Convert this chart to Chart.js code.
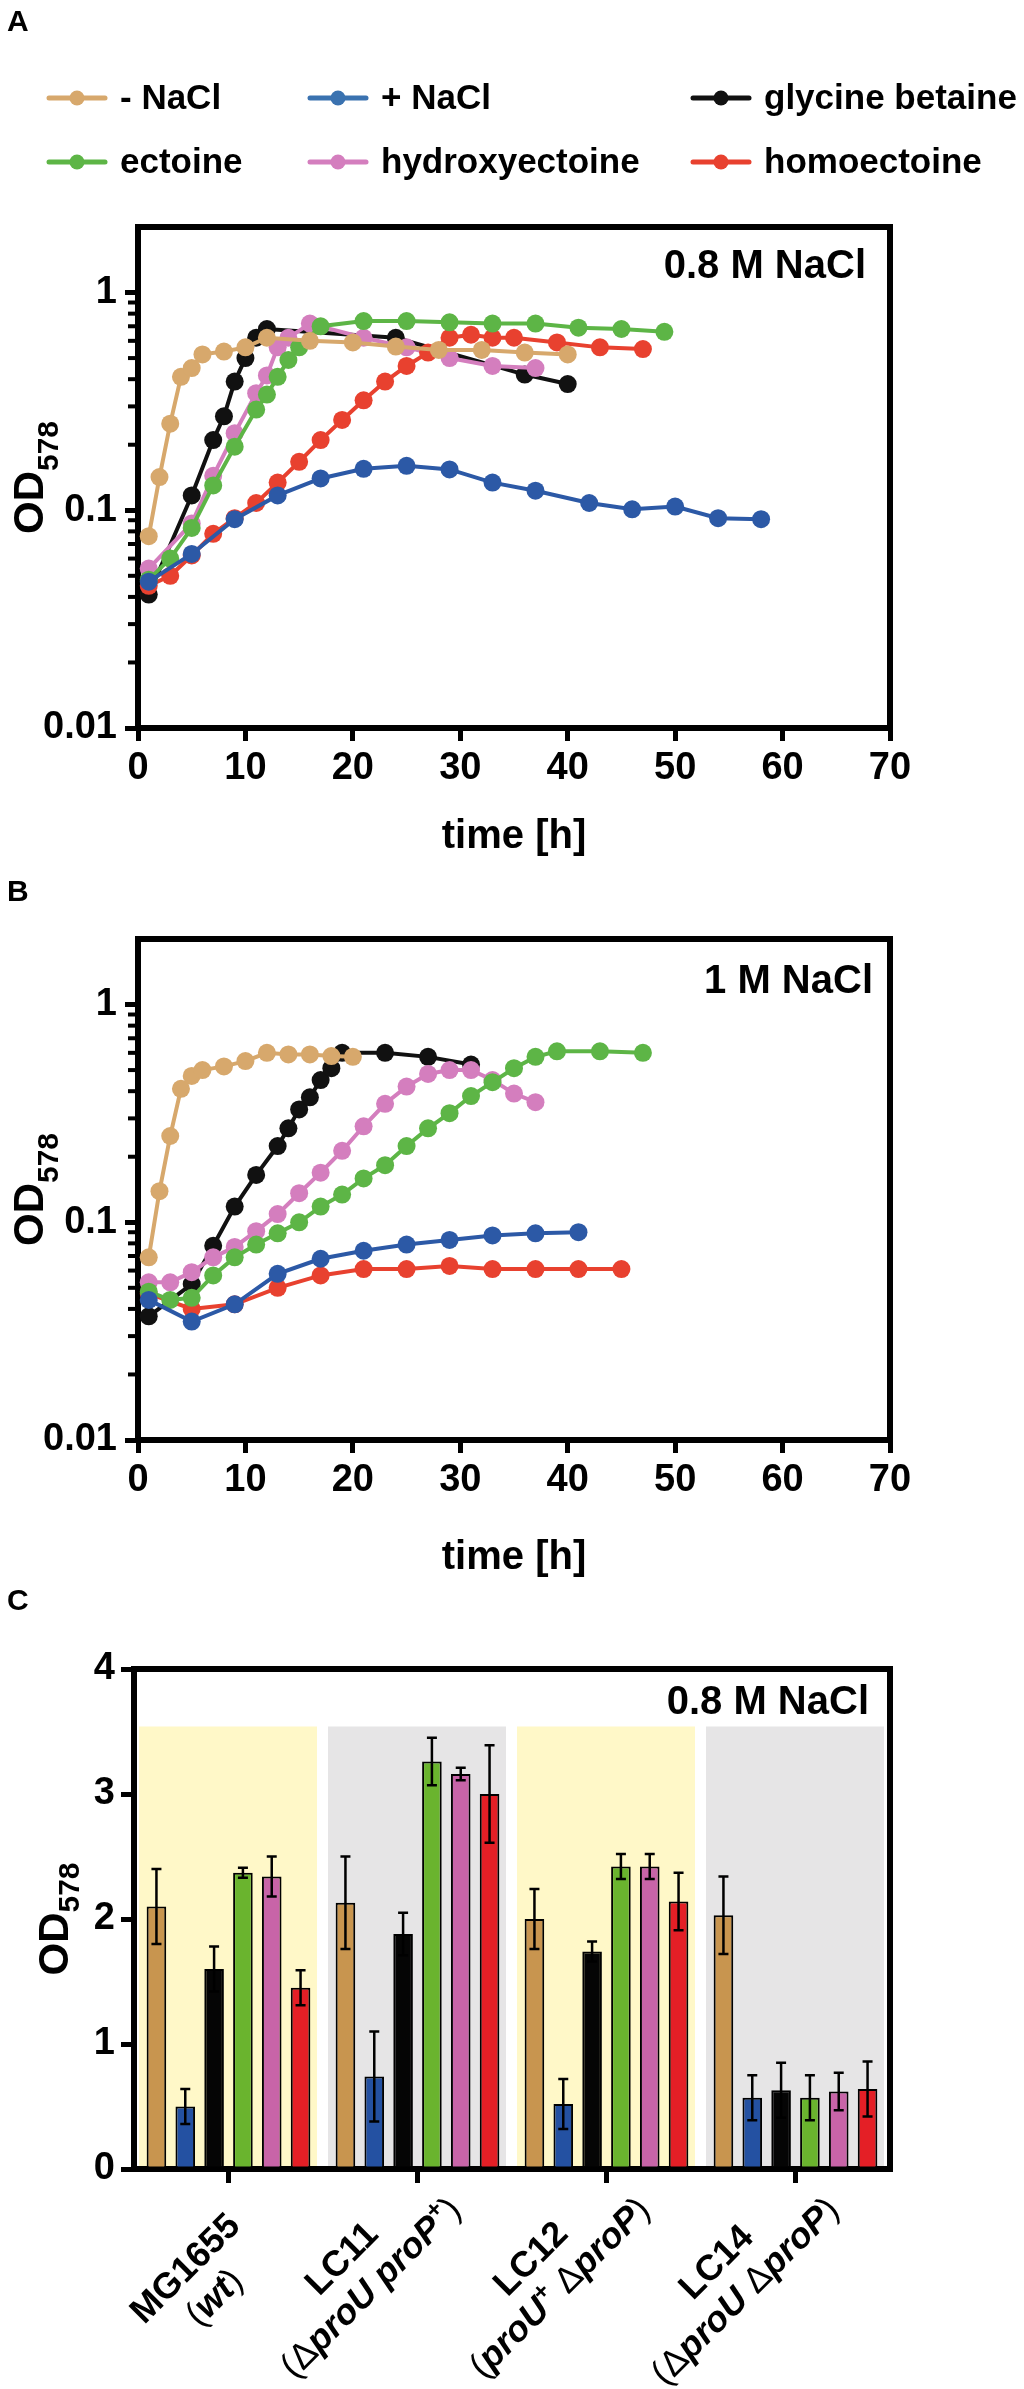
<!DOCTYPE html>
<html><head><meta charset="utf-8">
<script src="https://cdn.jsdelivr.net/npm/chart.js@4.4.1/dist/chart.umd.min.js"></script>
<style>
html,body{margin:0;padding:0;background:#fff;}
body{width:1024px;height:2389px;position:relative;overflow:hidden;}
.panel{position:absolute;left:0;width:1024px;}
</style></head><body>
<div class="panel" style="top:0;height:880px"><canvas id="cA"></canvas></div>
<div class="panel" style="top:870px;height:720px"><canvas id="cB"></canvas></div>
<div class="panel" style="top:1560px;height:829px"><canvas id="cC"></canvas></div>
<script>
// ---------------- DATA ----------------
const seriesNames = ['- NaCl', '+ NaCl', 'glycine betaine', 'ectoine', 'hydroxyectoine', 'homoectoine'];
const timeTicks = [0, 10, 20, 30, 40, 50, 60, 70];
const odTicks = [0.01, 0.1, 1];
const odTickLabels = ['0.01', '0.1', '1'];
const barTicks = [0, 1, 2, 3, 4];

// Panel A: 0.8 M NaCl
const timeA_noNaCl = [1, 2, 3, 4, 5, 6, 8, 10, 12, 16, 20, 24, 28, 32, 36, 40];
const odA_noNaCl = [0.076, 0.142, 0.25, 0.41, 0.45, 0.52, 0.536, 0.56, 0.62, 0.60, 0.59, 0.565, 0.545, 0.545, 0.53, 0.52];
const timeA_NaCl = [1, 5, 9, 13, 17, 21, 25, 29, 33, 37, 42, 46, 50, 54, 58];
const odA_NaCl = [0.047, 0.063, 0.091, 0.117, 0.14, 0.155, 0.16, 0.154, 0.134, 0.123, 0.108, 0.101, 0.104, 0.092, 0.091];
const timeA_GB = [1, 5, 7, 8, 9, 10, 11, 12, 24, 36, 40];
const odA_GB = [0.041, 0.117, 0.21, 0.27, 0.39, 0.5, 0.62, 0.68, 0.62, 0.42, 0.38];
const timeA_ect = [1, 3, 5, 7, 9, 11, 12, 13, 14, 15, 17, 21, 25, 29, 33, 37, 41, 45, 49];
const odA_ect = [0.048, 0.06, 0.083, 0.13, 0.196, 0.29, 0.34, 0.41, 0.49, 0.56, 0.70, 0.74, 0.74, 0.73, 0.72, 0.72, 0.69, 0.68, 0.66];
const timeA_hyd = [1, 5, 7, 9, 11, 12, 13, 14, 16, 21, 25, 29, 33, 37];
const odA_hyd = [0.054, 0.087, 0.144, 0.226, 0.345, 0.416, 0.56, 0.62, 0.72, 0.62, 0.56, 0.5, 0.46, 0.45];
const timeA_homo = [1, 3, 5, 7, 9, 11, 13, 15, 17, 19, 21, 23, 25, 27, 29, 31, 33, 35, 39, 43, 47];
const odA_homo = [0.045, 0.05, 0.062, 0.078, 0.092, 0.108, 0.134, 0.167, 0.21, 0.26, 0.32, 0.39, 0.46, 0.53, 0.62, 0.64, 0.62, 0.62, 0.59, 0.56, 0.55];

// Panel B: 1 M NaCl
const timeB_noNaCl = [1, 2, 3, 4, 5, 6, 8, 10, 12, 14, 16, 18, 20];
const odB_noNaCl = [0.069, 0.139, 0.249, 0.41, 0.47, 0.50, 0.52, 0.55, 0.60, 0.59, 0.59, 0.58, 0.575];
const timeB_NaCl = [1, 5, 9, 13, 17, 21, 25, 29, 33, 37, 41];
const odB_NaCl = [0.044, 0.035, 0.042, 0.058, 0.068, 0.074, 0.079, 0.083, 0.087, 0.089, 0.09];
const timeB_GB = [1, 5, 7, 9, 11, 13, 14, 15, 16, 17, 18, 19, 23, 27, 31];
const odB_GB = [0.037, 0.052, 0.078, 0.118, 0.165, 0.224, 0.27, 0.33, 0.375, 0.45, 0.51, 0.6, 0.6, 0.575, 0.53];
const timeB_ect = [1, 3, 5, 7, 9, 11, 13, 15, 17, 19, 21, 23, 25, 27, 29, 31, 33, 35, 37, 39, 43, 47];
const odB_ect = [0.048, 0.044, 0.045, 0.057, 0.069, 0.079, 0.089, 0.1, 0.118, 0.134, 0.159, 0.183, 0.224, 0.27, 0.317, 0.38, 0.44, 0.51, 0.575, 0.61, 0.61, 0.6];
const timeB_hyd = [1, 3, 5, 7, 9, 11, 13, 15, 17, 19, 21, 23, 25, 27, 29, 31, 33, 35, 37];
const odB_hyd = [0.053, 0.053, 0.059, 0.069, 0.077, 0.091, 0.109, 0.136, 0.169, 0.213, 0.276, 0.35, 0.42, 0.48, 0.50, 0.50, 0.45, 0.39, 0.356];
const timeB_homo = [1, 5, 9, 13, 17, 21, 25, 29, 33, 37, 41, 45];
const odB_homo = [0.047, 0.040, 0.042, 0.050, 0.057, 0.061, 0.061, 0.063, 0.061, 0.061, 0.061, 0.061];

// Panel C: final OD578 at 0.8 M NaCl
const strains = ['MG1655', 'LC11', 'LC12', 'LC14'];
const genotypes = ['(*wt*)', '(Δ*proU proP*^+^)', '(*proU*^+^ Δ*proP*)', '(Δ*proU* Δ*proP*)'];
const barMean_noNaCl = [2.10, 2.13, 2.00, 2.03];
const barErr_noNaCl = [0.30, 0.37, 0.24, 0.31];
const barMean_NaCl = [0.50, 0.74, 0.52, 0.57];
const barErr_NaCl = [0.14, 0.36, 0.20, 0.18];
const barMean_GB = [1.60, 1.88, 1.74, 0.63];
const barErr_GB = [0.18, 0.17, 0.08, 0.22];
const barMean_ect = [2.37, 3.26, 2.42, 0.57];
const barErr_ect = [0.04, 0.19, 0.10, 0.18];
const barMean_hyd = [2.34, 3.16, 2.42, 0.62];
const barErr_hyd = [0.16, 0.05, 0.10, 0.15];
const barMean_homo = [1.45, 3.00, 2.14, 0.64];
const barErr_homo = [0.14, 0.39, 0.23, 0.22];

// ---------------- STYLE ----------------
const FONT = '"Liberation Sans", Arial, Helvetica, sans-serif';
const BLACK = '#000000';
const lineColors = ['#D7A86C', '#2C59A6', '#111111', '#5DB546', '#D47EBE', '#E8412F'];
const legendColors = ['#D7A86C', '#3A72B0', '#111111', '#5DB546', '#D47EBE', '#E8412F'];
const barColors = ['#C8954F', '#2451A2', '#050505', '#6AB42E', '#C864A8', '#E41F26'];
const shadeColors = ['#FFF8C8', '#E6E5E6'];
const minorLog = [2, 3, 4, 5, 6, 7, 8, 9].flatMap(k => [0.01 * k, 0.1 * k]);

function lineDS(label, xs, ys, color) {
  return {
    label, data: xs.map((x, i) => ({x: x, y: ys[i]})),
    borderColor: color, backgroundColor: color,
    pointBackgroundColor: color, pointBorderColor: color,
    borderWidth: 4, pointRadius: 9, pointBorderWidth: 0, pointHoverRadius: 9,
    tension: 0, clip: false
  };
}

function decorPlugin(cfg) {
  return {
    id: 'decor' + cfg.letter,
    beforeDraw(chart) {
      if (!cfg.shade) return;
      const {ctx, chartArea: a, scales: {x, y}} = chart;
      const n = chart.data.labels.length, cw = (a.right - a.left) / n;
      ctx.save();
      for (let i = 0; i < n; i++) {
        const cx = x.getPixelForValue(i);
        const top = y.getPixelForValue(cfg.shadeTop);
        ctx.fillStyle = shadeColors[i % 2];
        ctx.fillRect(cx - cw / 2 + 5, top, cw - 11, a.bottom - 3 - top);
      }
      ctx.restore();
    },
    afterDatasetsDraw(chart) {
      if (!cfg.errors) return;
      const {ctx, scales: {y}} = chart;
      ctx.save();
      ctx.strokeStyle = BLACK; ctx.lineWidth = 2.5;
      chart.data.datasets.forEach((ds, i) => {
        const meta = chart.getDatasetMeta(i);
        meta.data.forEach((bar, j) => {
          const m = ds.data[j], e = ds.errors[j];
          const yt = y.getPixelForValue(m + e), yb = y.getPixelForValue(m - e);
          ctx.beginPath();
          ctx.moveTo(bar.x, yt); ctx.lineTo(bar.x, yb);
          ctx.moveTo(bar.x - 5, yt); ctx.lineTo(bar.x + 5, yt);
          ctx.moveTo(bar.x - 5, yb); ctx.lineTo(bar.x + 5, yb);
          ctx.stroke();
        });
      });
      ctx.restore();
    },
    afterDraw(chart) {
      const {ctx, chartArea: a} = chart;
      ctx.save();
      // frame (top and right)
      ctx.strokeStyle = BLACK; ctx.lineWidth = 6; ctx.lineCap = 'square';
      ctx.beginPath(); ctx.moveTo(a.left, a.top); ctx.lineTo(a.right, a.top); ctx.lineTo(a.right, a.bottom); ctx.stroke();
      // minor log ticks
      if (cfg.minor) {
        const y = chart.scales.y;
        ctx.lineWidth = 4; ctx.lineCap = 'butt';
        minorLog.forEach(v => {
          const py = y.getPixelForValue(v);
          ctx.beginPath(); ctx.moveTo(a.left - 10, py); ctx.lineTo(a.left, py); ctx.stroke();
        });
      }
      ctx.fillStyle = BLACK;
      // panel letter
      ctx.font = `bold 30px ${FONT}`; ctx.textAlign = 'left'; ctx.textBaseline = 'middle';
      ctx.fillText(cfg.letter, 7, cfg.letterY);
      // condition
      ctx.font = `bold 40px ${FONT}`; ctx.textAlign = 'right';
      ctx.fillText(cfg.note, a.right - cfg.noteDx, a.top + cfg.noteDy);
      // legend
      if (cfg.legend) {
        const colsX = [47, 308, 691], rowsY = [98, 162];
        seriesNames.forEach((name, i) => {
          const x0 = colsX[i % 3], yy = rowsY[Math.floor(i / 3)];
          ctx.strokeStyle = legendColors[i]; ctx.fillStyle = legendColors[i];
          ctx.lineWidth = 5; ctx.lineCap = 'round';
          ctx.beginPath(); ctx.moveTo(x0 + 2, yy); ctx.lineTo(x0 + 58, yy); ctx.stroke();
          ctx.beginPath(); ctx.arc(x0 + 30, yy, 7.5, 0, Math.PI * 2); ctx.fill();
          ctx.fillStyle = BLACK; ctx.font = `bold 35px ${FONT}`; ctx.textAlign = 'left'; ctx.textBaseline = 'middle';
          ctx.fillText(name, x0 + 73, yy + 1);
        });
      }
      // y title OD578
      ctx.save();
      ctx.translate(cfg.titleX, (a.top + a.bottom) / 2); ctx.rotate(-Math.PI / 2);
      ctx.textBaseline = 'alphabetic'; ctx.textAlign = 'left'; ctx.fillStyle = BLACK;
      ctx.font = `bold 42px ${FONT}`; const w1 = ctx.measureText('OD').width;
      ctx.font = `bold 30px ${FONT}`; const w2 = ctx.measureText('578').width;
      const s = -(w1 + w2) / 2;
      ctx.font = `bold 42px ${FONT}`; ctx.fillText('OD', s, 0);
      ctx.font = `bold 30px ${FONT}`; ctx.fillText('578', s + w1, cfg.subDrop);
      ctx.restore();
      // category labels
      if (cfg.catLabels) drawCatLabels(chart);
      ctx.restore();
    }
  };
}

function runsFor(str) {
  const runs = []; let italic = false, sup = false;
  for (const ch of str) {
    if (ch === '*') { italic = !italic; continue; }
    if (ch === '^') { sup = !sup; continue; }
    const plain = '()Δ'.includes(ch);
    const font = `${(italic && !plain) ? 'italic ' : ''}${plain ? 'normal' : 'bold'} ${sup ? 24 : 36}px ${FONT}`;
    const last = runs[runs.length - 1];
    if (last && last.font === font && last.sup === sup) last.text += ch;
    else runs.push({text: ch, font, sup});
  }
  return runs;
}
function runsWidth(ctx, runs) { let w = 0; runs.forEach(r => { ctx.font = r.font; w += ctx.measureText(r.text).width; }); return w; }
function drawRuns(ctx, runs, x, y) { let cx = x; runs.forEach(r => { ctx.font = r.font; ctx.fillText(r.text, cx, r.sup ? y - 14 : y); cx += ctx.measureText(r.text).width; }); }

const labelNudge = [[-34, 30], [0, 0], [0, 0], [0, 0]];
function drawCatLabels(chart) {
  const {ctx, chartArea: a, scales: {x}} = chart;
  ctx.save(); ctx.fillStyle = BLACK; ctx.textAlign = 'left'; ctx.textBaseline = 'alphabetic';
  strains.forEach((name, i) => {
    const r1 = runsFor(name), r2 = runsFor(genotypes[i]);
    const w1 = runsWidth(ctx, r1), w2 = runsWidth(ctx, r2), W = Math.max(w1, w2);
    const R = 2 + labelNudge[i][0], b1 = 21 + labelNudge[i][1], b2 = b1 + 41;
    const c = R - W / 2;
    ctx.save();
    ctx.translate(x.getPixelForValue(i), a.bottom); ctx.rotate(-Math.PI / 4);
    drawRuns(ctx, r1, c - w1 / 2, b1);
    drawRuns(ctx, r2, c - w2 / 2, b2);
    ctx.restore();
  });
  ctx.restore();
}

const tickFont = {family: FONT, size: 38, weight: 'bold'};
function axisGrid(len) { return {display: true, drawOnChartArea: false, drawTicks: true, tickLength: len, tickWidth: 5, tickColor: BLACK, color: BLACK}; }
const axisBorder = {display: true, width: 6, color: BLACK};

function growthChart(id, cfg, datasets) {
  return new Chart(document.getElementById(id), {
    type: 'line',
    data: {datasets},
    options: {
      responsive: true, maintainAspectRatio: false, animation: false,
      layout: {padding: {top: cfg.padTop, right: 134, bottom: 0, left: 0}},
      plugins: {legend: {display: false}, tooltip: {enabled: false}},
      scales: {
        x: {
          type: 'linear', min: 0, max: 70,
          afterFit(s) { s.height = cfg.xH; },
          afterBuildTicks(s) { s.ticks = timeTicks.map(v => ({value: v})); },
          grid: axisGrid(13), border: axisBorder,
          ticks: {color: BLACK, font: tickFont, padding: 5, maxRotation: 0, autoSkip: false},
          title: {display: true, text: 'time [h]', color: BLACK, font: {family: FONT, size: 40, weight: 'bold'}, padding: {top: 0, bottom: cfg.titlePad}}
        },
        y: {
          type: 'logarithmic', min: 0.01, max: 2,
          afterFit(s) { s.width = 138; },
          afterBuildTicks(s) { s.ticks = odTicks.map(v => ({value: v})); },
          grid: axisGrid(13), border: axisBorder,
          ticks: {color: BLACK, font: tickFont, padding: 8, autoSkip: false, callback: (v, i) => odTickLabels[i]}
        }
      }
    },
    plugins: [decorPlugin(cfg)]
  });
}

growthChart('cA', {padTop: 227, xH: 152, titlePad: 19, letter: 'A', letterY: 23, note: '0.8 M NaCl', noteDx: 24, noteDy: 40, titleX: 43, subDrop: 15, minor: true, legend: true}, [
  lineDS(seriesNames[1], timeA_NaCl, odA_NaCl, lineColors[1]),
  lineDS(seriesNames[0], timeA_noNaCl, odA_noNaCl, lineColors[0]),
  lineDS(seriesNames[3], timeA_ect, odA_ect, lineColors[3]),
  lineDS(seriesNames[5], timeA_homo, odA_homo, lineColors[5]),
  lineDS(seriesNames[4], timeA_hyd, odA_hyd, lineColors[4]),
  lineDS(seriesNames[2], timeA_GB, odA_GB, lineColors[2])
]);

growthChart('cB', {padTop: 69, xH: 150, titlePad: 8, letter: 'B', letterY: 23, note: '1 M NaCl', noteDx: 17, noteDy: 43, titleX: 43, subDrop: 15, minor: true}, [
  lineDS(seriesNames[1], timeB_NaCl, odB_NaCl, lineColors[1]),
  lineDS(seriesNames[0], timeB_noNaCl, odB_noNaCl, lineColors[0]),
  lineDS(seriesNames[3], timeB_ect, odB_ect, lineColors[3]),
  lineDS(seriesNames[5], timeB_homo, odB_homo, lineColors[5]),
  lineDS(seriesNames[4], timeB_hyd, odB_hyd, lineColors[4]),
  lineDS(seriesNames[2], timeB_GB, odB_GB, lineColors[2])
]);

const barMeans = [barMean_noNaCl, barMean_NaCl, barMean_GB, barMean_ect, barMean_hyd, barMean_homo];
const barErrs = [barErr_noNaCl, barErr_NaCl, barErr_GB, barErr_ect, barErr_hyd, barErr_homo];
new Chart(document.getElementById('cC'), {
  type: 'bar',
  data: {
    labels: strains,
    datasets: seriesNames.map((name, i) => ({
      label: name, data: barMeans[i], errors: barErrs[i],
      backgroundColor: barColors[i], borderColor: BLACK, borderWidth: 2, borderSkipped: false,
      categoryPercentage: 0.915, barPercentage: 0.68
    }))
  },
  options: {
    responsive: true, maintainAspectRatio: false, animation: false,
    layout: {padding: {top: 109, right: 134, bottom: 0, left: 0}},
    plugins: {legend: {display: false}, tooltip: {enabled: false}},
    scales: {
      x: {
        type: 'category', offset: true,
        afterFit(s) { s.height = 220; },
        grid: Object.assign(axisGrid(14), {offset: false}), border: axisBorder,
        ticks: {color: BLACK, font: tickFont, callback: () => ''}
      },
      y: {
        min: 0, max: 4,
        afterFit(s) { s.width = 134; },
        afterBuildTicks(s) { s.ticks = barTicks.map(v => ({value: v})); },
        grid: axisGrid(13), border: axisBorder,
        ticks: {color: BLACK, font: tickFont, padding: 6, autoSkip: false, callback: (v) => String(v)}
      }
    }
  },
  plugins: [decorPlugin({letter: 'C', letterY: 42, note: '0.8 M NaCl', noteDx: 21, noteDy: 34, titleX: 68, subDrop: 11, shade: true, shadeTop: 3.54, errors: true, catLabels: true})]
});
</script>
</body></html>
